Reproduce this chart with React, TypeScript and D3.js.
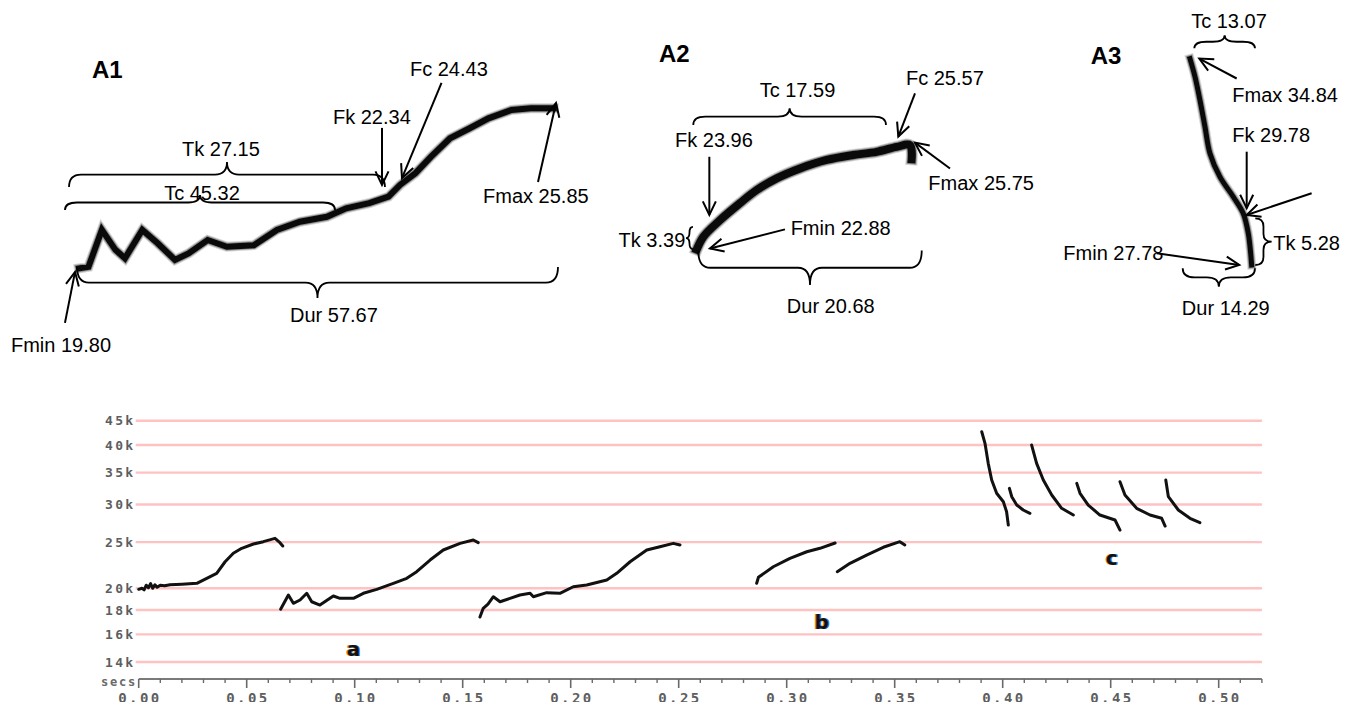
import React from "react";
import * as d3 from "d3";

// ---------------- Bottom spectrogram data (time s, frequency kHz) ----------------
const FREQ_TICKS_KHZ = [14, 16, 18, 20, 25, 30, 35, 40, 45];
const TIME_MAJOR_TICKS = [0, 0.05, 0.1, 0.15, 0.2, 0.25, 0.3, 0.35, 0.4, 0.45, 0.5];
const TIME_MINOR_STEP = 0.01;
const TIME_MAX = 0.52;

const CALL_A1: [number, number][] = [
  [0.0, 19.9], [0.0015, 20.0], [0.0025, 19.85], [0.0035, 20.3], [0.0045, 20.05], [0.0055, 20.45],
  [0.0065, 20.0], [0.0075, 20.35], [0.0085, 20.1], [0.01, 20.3], [0.012, 20.25], [0.0145, 20.35],
  [0.02, 20.4], [0.0269, 20.49], [0.0315, 20.99], [0.0361, 21.5], [0.04, 22.74], [0.0438, 23.69],
  [0.0477, 24.27], [0.0531, 24.78], [0.0577, 25.06], [0.0631, 25.47], [0.0654, 24.94], [0.0667, 24.54],
];
const CALL_A2: [number, number][] = [
  [0.0657, 18.07], [0.0693, 19.36], [0.0716, 18.6], [0.0747, 18.9], [0.0778, 19.52], [0.0801, 18.74],
  [0.0839, 18.44], [0.0901, 19.27], [0.0932, 19.05], [0.0994, 19.05], [0.104, 19.52], [0.1102, 19.9],
  [0.1179, 20.49], [0.1241, 20.99], [0.1287, 21.67], [0.1349, 22.93], [0.141, 24.07], [0.1488, 24.86],
  [0.1549, 25.26], [0.1572, 24.94],
];
const CALL_A3: [number, number][] = [
  [0.158, 17.4], [0.1595, 18.15], [0.1617, 18.53], [0.1642, 19.2], [0.1673, 18.74], [0.1719, 19.05],
  [0.1765, 19.36], [0.1812, 19.52], [0.1827, 19.2], [0.1889, 19.58], [0.195, 19.52], [0.2012, 20.15],
  [0.2074, 20.32], [0.2167, 20.82], [0.2213, 21.5], [0.2275, 22.74], [0.2352, 24.07], [0.2413, 24.46],
  [0.2475, 24.86], [0.2506, 24.66],
];
const CALL_B1: [number, number][] = [
  [0.2861, 20.49], [0.2869, 21.09], [0.2938, 22.2], [0.3015, 23.12], [0.3093, 23.87], [0.3154, 24.27], [0.3224, 24.9],
];
const CALL_B2: [number, number][] = [
  [0.3234, 21.67], [0.3293, 22.57], [0.337, 23.49], [0.3447, 24.39], [0.3524, 25.06], [0.3547, 24.66],
];
const CALL_C1: [number, number][] = [
  [0.3903, 42.66], [0.3918, 40.33], [0.3933, 36.61], [0.3949, 33.77], [0.3972, 31.67], [0.4003, 30.4], [0.4018, 28.97], [0.4026, 27.16],
];
const CALL_C2: [number, number][] = [
  [0.4031, 32.44], [0.4042, 31.15], [0.4065, 29.92], [0.4095, 29.21], [0.4126, 28.75],
];
const CALL_C3: [number, number][] = [
  [0.4134, 40.0], [0.4157, 36.61], [0.4188, 33.77], [0.4227, 31.41], [0.4273, 29.45], [0.4327, 28.51],
];
const CALL_C4: [number, number][] = [
  [0.4343, 33.23], [0.4358, 31.67], [0.4396, 29.92], [0.445, 28.51], [0.452, 27.83], [0.4543, 26.51],
];
const CALL_C5: [number, number][] = [
  [0.4543, 33.49], [0.4566, 31.41], [0.462, 29.45], [0.4682, 28.51], [0.4736, 28.06], [0.4752, 27.03],
];
const CALL_C6: [number, number][] = [
  [0.4755, 33.77], [0.4767, 31.15], [0.4813, 29.21], [0.4867, 28.06], [0.4913, 27.47],
];
const ALL_CALLS = [CALL_A1, CALL_A2, CALL_A3, CALL_B1, CALL_B2, CALL_C1, CALL_C2, CALL_C3, CALL_C4, CALL_C5, CALL_C6];

const GROUP_LABELS = [
  { text: "a", t: 0.0994, f: 14.84 },
  { text: "b", t: 0.3162, f: 16.91 },
  { text: "c", t: 0.4505, f: 23.04 },
];

// ---------------- Magnified call panels (time ms, frequency kHz) ----------------
const A1_CONTOUR: [number, number][] = [
  [0, 19.86], [1.15, 19.92], [2.77, 21.27], [4.41, 20.54], [5.57, 20.23], [7.67, 21.27], [9.53, 20.78],
  [11.63, 20.17], [13.27, 20.41], [15.59, 20.9], [17.92, 20.65], [21.18, 20.71], [23.98, 21.27],
  [26.77, 21.57], [30.03, 21.75], [32.37, 22.06], [35.16, 22.25], [37.5, 22.49], [38.89, 22.92],
  [40.76, 23.35], [42.63, 23.95], [44.95, 24.63], [47.28, 24.99], [49.61, 25.36], [52.4, 25.67],
  [54.74, 25.73], [57.52, 25.73],
];
const A1_TEXTS = [
  { text: "A1", x: 1.58, y: 26.84, anchor: "start", bold: true },
  { text: "Fc 24.43", x: 40.1, y: 26.91, anchor: "start" },
  { text: "Fk 22.34", x: 30.77, y: 25.15, anchor: "start" },
  { text: "Tk 27.15", x: 17.2, y: 23.98, anchor: "middle" },
  { text: "Tc 45.32", x: 14.9, y: 22.37, anchor: "middle" },
  { text: "Fmax 25.85", x: 48.95, y: 22.26, anchor: "start" },
  { text: "Dur 57.67", x: 30.89, y: 17.89, anchor: "middle" },
  { text: "Fmin 19.80", x: -8.24, y: 16.79, anchor: "start" },
];
const A1_ARROWS: number[][] = [
  [-1.7, 17.86, -0.48, 19.73],
  [36.71, 25.01, 36.71, 22.92],
  [43.92, 26.66, 39.13, 23.17],
  [55.61, 23.03, 57.79, 25.92],
];
const A1_HBRACES = [
  { x1: -1.21, x2: 37.07, y: 22.84, tip: 23.76 },
  { x1: -1.7, x2: 31.02, y: 22.0, tip: 22.55 },
  { x1: -0.24, x2: 58.03, y: 19.91, tip: 18.77 },
];
const A1_VBRACES: { y1: number; y2: number; x: number; tip: number }[] = [];

const A2_CONTOUR: [number, number][] = [
  [0, 22.8], [0.64, 23.16], [2.25, 23.63], [4.18, 24.11], [5.79, 24.48], [7.72, 24.81], [9.97, 25.09],
  [12.55, 25.33], [15.12, 25.47], [17.37, 25.56], [19.31, 25.7], [20.59, 25.75], [20.75, 25.35],
];
const A2_TEXTS = [
  { text: "A2", x: -3.64, y: 28.1, anchor: "start", bold: true },
  { text: "Tc 17.59", x: 9.73, y: 27.1, anchor: "middle" },
  { text: "Fk 23.96", x: -2.09, y: 25.7, anchor: "start" },
  { text: "Fc 25.57", x: 20.2, y: 27.45, anchor: "start" },
  { text: "Fmax 25.75", x: 22.36, y: 24.48, anchor: "start" },
  { text: "Fmin 22.88", x: 9.07, y: 23.21, anchor: "start" },
  { text: "Tk 3.39", x: -1.1, y: 22.88, anchor: "end" },
  { text: "Dur 20.68", x: 12.94, y: 21.0, anchor: "middle" },
];
const A2_ARROWS: number[][] = [
  [1.22, 25.42, 1.22, 23.78],
  [21.07, 27.21, 19.46, 25.99],
  [24.45, 25.09, 21.07, 25.82],
  [8.52, 23.37, 1.28, 22.83],
];
const A2_HBRACES = [
  { x1: -0.33, x2: 18.27, y: 26.32, tip: 26.79 },
  { x1: 0.15, x2: 21.72, y: 22.77, tip: 21.8 },
];
const A2_VBRACES = [{ y1: 23.44, y2: 22.81, x: -0.36, tip: -1.03 }];

const A3_CONTOUR: [number, number][] = [
  [0, 34.83], [1.16, 34.21], [2.31, 33.41], [3.47, 32.5], [4.63, 31.59], [6.94, 30.79], [10.02, 30.11],
  [12.34, 29.54], [13.5, 28.86], [14.05, 28.18], [14.28, 27.78],
];
const A3_TEXTS = [
  { text: "A3", x: -22.99, y: 34.66, anchor: "start", bold: true },
  { text: "Tc 13.07", x: 9.03, y: 35.86, anchor: "middle" },
  { text: "Fmax 34.84", x: 9.79, y: 33.35, anchor: "start" },
  { text: "Fk 29.78", x: 9.79, y: 31.99, anchor: "start" },
  { text: "Tk 5.28", x: 19.28, y: 28.29, anchor: "start" },
  { text: "Fmin 27.78", x: -29.33, y: 27.95, anchor: "start" },
  { text: "Dur 14.29", x: 8.29, y: 26.07, anchor: "middle" },
];
const A3_ARROWS: number[][] = [
  [10.81, 34.15, 2.15, 34.83],
  [13.13, 31.65, 13.13, 29.72],
  [28.17, 30.23, 13.13, 29.49],
  [-7.71, 28.18, 11.41, 27.78],
];
const A3_HBRACES = [
  { x1: 1.0, x2: 15.05, y: 35.18, tip: 35.63 },
  { x1: -1.69, x2: 15.05, y: 27.67, tip: 27.04 },
];
const A3_VBRACES = [{ y1: 29.37, y2: 27.78, x: 15.12, tip: 18.91 }];

// ---------------- helpers ----------------
function hBracePath(x1: number, x2: number, y0: number, yt: number) {
  const xm = (x1 + x2) / 2;
  const ym = y0 + (yt - y0) * 0.5;
  const r = Math.min(12, Math.abs(x2 - x1) / 4);
  return `M${x1},${y0} Q${x1},${ym} ${x1 + r},${ym} L${xm - r},${ym} Q${xm},${ym} ${xm},${yt} Q${xm},${ym} ${xm + r},${ym} L${x2 - r},${ym} Q${x2},${ym} ${x2},${y0}`;
}
function vBracePath(y1: number, y2: number, x0: number, xt: number) {
  const top = Math.min(y1, y2), bot = Math.max(y1, y2);
  const ymid = (top + bot) / 2;
  const xm = x0 + (xt - x0) * 0.5;
  const r = Math.min(8, (bot - top) / 4);
  return `M${x0},${top} Q${xm},${top} ${xm},${top + r} L${xm},${ymid - r} Q${xm},${ymid} ${xt},${ymid} Q${xm},${ymid} ${xm},${ymid + r} L${xm},${bot - r} Q${xm},${bot} ${x0},${bot}`;
}
function arrowHead(x1: number, y1: number, x2: number, y2: number, len = 15, ang = 0.45) {
  const a = Math.atan2(y1 - y2, x1 - x2);
  const p1 = [x2 + len * Math.cos(a + ang), y2 + len * Math.sin(a + ang)];
  const p2 = [x2 + len * Math.cos(a - ang), y2 + len * Math.sin(a - ang)];
  return `M${p1[0]},${p1[1]} L${x2},${y2} L${p2[0]},${p2[1]}`;
}

const ANNOT_FONT = "'Liberation Sans', Arial, Helvetica, sans-serif";

type PanelProps = {
  contour: [number, number][];
  texts: { text: string; x: number; y: number; anchor: string; bold?: boolean }[];
  arrows: number[][];
  hbraces: { x1: number; x2: number; y: number; tip: number }[];
  vbraces: { y1: number; y2: number; x: number; tip: number }[];
  xDomain: [number, number];
  xRange: [number, number];
  yDomain: [number, number];
  yRange: [number, number];
  width: number;
  curve: d3.CurveFactory;
};

function Panel(p: PanelProps) {
  const x = d3.scaleLinear().domain(p.xDomain).range(p.xRange);
  const y = d3.scaleLinear().domain(p.yDomain).range(p.yRange);
  const line = d3
    .line<[number, number]>()
    .x((d) => x(d[0]))
    .y((d) => y(d[1]))
    .curve(p.curve);
  const d = line(p.contour) || "";
  return (
    <g>
      <path d={d} fill="none" stroke="#b8b8b8" strokeWidth={p.width + 3} strokeLinejoin="miter" strokeLinecap="square" opacity={0.6} />
      <path d={d} fill="none" stroke="#666" strokeWidth={p.width + 1} strokeLinejoin="miter" strokeLinecap="square" opacity={0.6} />
      <path d={d} fill="none" stroke="#0a0a0a" strokeWidth={p.width - 1} strokeLinejoin="miter" strokeLinecap="square" />
      {p.hbraces.map((b, i) => (
        <path key={"hb" + i} d={hBracePath(x(b.x1), x(b.x2), y(b.y), y(b.tip))} fill="none" stroke="#000" strokeWidth={1.8} />
      ))}
      {p.vbraces.map((b, i) => (
        <path key={"vb" + i} d={vBracePath(y(b.y1), y(b.y2), x(b.x), x(b.tip))} fill="none" stroke="#000" strokeWidth={1.8} />
      ))}
      {p.arrows.map((a, i) => {
        const x1 = x(a[0]), y1 = y(a[1]), x2 = x(a[2]), y2 = y(a[3]);
        return (
          <g key={"ar" + i} fill="none" stroke="#000" strokeWidth={2}>
            <line x1={x1} y1={y1} x2={x2} y2={y2} />
            <path d={arrowHead(x1, y1, x2, y2)} />
          </g>
        );
      })}
      {p.texts.map((t, i) => (
        <text
          key={"t" + i}
          x={x(t.x)}
          y={y(t.y)}
          textAnchor={t.anchor as any}
          fontFamily={ANNOT_FONT}
          fontSize={t.bold ? 24 : 20}
          fontWeight={t.bold ? "bold" : "normal"}
          fill="#000"
        >
          {t.text}
        </text>
      ))}
    </g>
  );
}

function Spectrogram() {
  const x = d3.scaleLinear().domain([0, TIME_MAX]).range([138.7, 138.7 + TIME_MAX * 2160]);
  const y = d3.scaleLog().domain([14, 45]).range([662, 420.7]);
  const line = d3
    .line<[number, number]>()
    .x((d) => x(d[0]))
    .y((d) => y(d[1]))
    .curve(d3.curveLinear);
  const axisY = 679;
  const minor = d3.range(0, TIME_MAX + 1e-9, TIME_MINOR_STEP);
  const fmt = d3.format(".2f");
  const gx0 = x(0) - 3;
  const gx1 = x(TIME_MAX);
  return (
    <g>
      {FREQ_TICKS_KHZ.map((f) => (
        <g key={f}>
          <line x1={gx0} x2={gx1} y1={y(f)} y2={y(f)} stroke="#ffc2c2" strokeWidth={2.4} />
          <text
            x={135.5}
            y={y(f)}
            dy="0.36em"
            textAnchor="end"
            fontFamily="'DejaVu Sans Mono', monospace"
            fontSize={13}
            letterSpacing={2.3}
            fill="#5e5e5e"
            fontWeight="bold"
          >
            {f + "k"}
          </text>
        </g>
      ))}
      {ALL_CALLS.map((c, i) => (
        <path key={i} d={line(c) || ""} fill="none" stroke="#111" strokeWidth={3} strokeLinejoin="round" strokeLinecap="round" />
      ))}
      {GROUP_LABELS.map((l) => (
        <g key={l.text} fontFamily="'DejaVu Sans', Verdana, sans-serif" fontWeight="bold" fontSize={20} textAnchor="middle">
          <text x={x(l.t) - 1.2} y={y(l.f)} dy="0.3em" fill="#e08a20">{l.text}</text>
          <text x={x(l.t) + 1.2} y={y(l.f)} dy="0.3em" fill="#3a7ad0">{l.text}</text>
          <text x={x(l.t)} y={y(l.f)} dy="0.3em" fill="#111">{l.text}</text>
        </g>
      ))}
      <line x1={x(0)} x2={x(TIME_MAX)} y1={axisY} y2={axisY} stroke="#7a7a7a" strokeWidth={2} />
      {minor.map((t, i) => {
        const major = i % 5 === 0;
        return (
          <line key={i} x1={x(t)} x2={x(t)} y1={axisY} y2={axisY + (major ? 9 : 4)} stroke="#6a6a6a" strokeWidth={major ? 1.6 : 1.4} />
        );
      })}
      {TIME_MAJOR_TICKS.map((t) => (
        <text
          key={t}
          x={x(t) + 1.2}
          y={703}
          textAnchor="middle"
          fontFamily="'DejaVu Sans Mono', monospace"
          fontSize={14}
          letterSpacing={2.4}
          fill="#5e5e5e"
          fontWeight="bold"
        >
          {fmt(t)}
        </text>
      ))}
      <text x={137} y={686} textAnchor="end" fontFamily="'DejaVu Sans Mono', monospace" fontSize={12} letterSpacing={1.8} fill="#6a6a6a" fontWeight="bold">
        secs
      </text>
    </g>
  );
}

export default function App() {
  return (
    <div style={{ width: 1362, height: 702, overflow: "hidden" }}>
      <style>{`html,body{margin:0;padding:0;background:#fff;}`}</style>
      <svg width={1362} height={702} viewBox="0 0 1362 702" style={{ display: "block", background: "#fff" }}>
        <Panel
          contour={A1_CONTOUR}
          texts={A1_TEXTS}
          arrows={A1_ARROWS}
          hbraces={A1_HBRACES}
          vbraces={A1_VBRACES}
          xDomain={[0, 57.67]}
          xRange={[79, 555]}
          yDomain={[19.8, 25.85]}
          yRange={[270, 105]}
          width={7}
          curve={d3.curveLinear}
        />
        <Panel
          contour={A2_CONTOUR}
          texts={A2_TEXTS}
          arrows={A2_ARROWS}
          hbraces={A2_HBRACES}
          vbraces={A2_VBRACES}
          xDomain={[0, 20.68]}
          xRange={[696.7, 910.95]}
          yDomain={[22.88, 25.75]}
          yRange={[246.7, 145.1]}
          width={9}
          curve={d3.curveCatmullRom}
        />
        <Panel
          contour={A3_CONTOUR}
          texts={A3_TEXTS}
          arrows={A3_ARROWS}
          hbraces={A3_HBRACES}
          vbraces={A3_VBRACES}
          xDomain={[0, 14.29]}
          xRange={[1190, 1251.7]}
          yDomain={[27.78, 34.84]}
          yRange={[265, 58.3]}
          width={6}
          curve={d3.curveCatmullRom}
        />
        <Spectrogram />
      </svg>
    </div>
  );
}
